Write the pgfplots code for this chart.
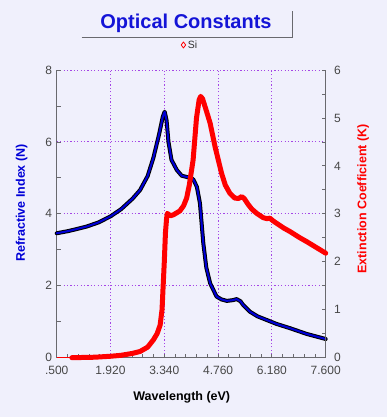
\documentclass[border=0pt]{standalone}
\usepackage{pgfplots}
\pgfplotsset{compat=1.18}
\usepackage{fontspec}
\setmainfont{Liberation Sans}
\definecolor{bg}{RGB}{240,240,252}
\definecolor{gridc}{RGB}{165,70,230}
\definecolor{tickc}{RGB}{70,70,70}
\definecolor{axc}{RGB}{105,105,110}
\definecolor{titleblue}{RGB}{20,20,215}
\definecolor{nblue}{RGB}{0,0,215}
\begin{document}
\begin{tikzpicture}[x=1pt,y=1pt]
\fill[bg] (0pt,0pt) rectangle (387pt,417pt);
\node[font=\fontsize{20}{24}\selectfont\bfseries, text=titleblue] at (186pt,393.5pt) {Optical Constants};
\draw[axc, line width=1pt] (81.7pt,379.7pt) -- (292.3pt,379.7pt) -- (292.3pt,406.3pt);
\begin{axis}[
  at={(56.7pt,59.3pt)}, anchor=south west,
  scale only axis, width=269pt, height=287.7pt,
  xmin=0.5, xmax=7.6, ymin=0, ymax=8,
  axis x line*=bottom, axis y line*=left,
  axis line style={-, axc, line width=1pt},
  xtick={0.5,1.92,3.34,4.76,6.18,7.6},
  xticklabels={.500,1.920,3.340,4.760,6.180,7.600},
  minor x tick num=4,
  ytick={0,2,4,6,8}, minor y tick num=1,
  tick align=inside,
  major tick length=4pt, minor tick length=4pt,
  every tick/.style={axc, line width=0.8pt},
  grid=major,
  major grid style={gridc, dash pattern=on 1.2pt off 2.2pt, line width=0.9pt},
  tick label style={font=\fontsize{12}{14}\selectfont, text=tickc},
  xticklabel style={yshift=-5pt},
  yticklabel style={xshift=-1pt},
  /pgf/number format/assume math mode=true,
  xlabel={Wavelength (eV)},
  ylabel={Refractive Index (N)},
  every axis x label/.style={font=\fontsize{12.5}{15}\selectfont\bfseries, at={(axis description cs:0.465,-0.137)}, anchor=center},
  every axis y label/.style={font=\fontsize{12.5}{15}\selectfont\bfseries, text=nblue, at={(axis description cs:-0.13,0.538)}, anchor=center, rotate=90},
  clip=false,
]
\addplot[black, line width=4pt, line join=round, line cap=round] coordinates {
(0.5,3.46) (0.8,3.52) (1.0,3.57) (1.3,3.65) (1.6,3.76) (1.92,3.93) (2.2,4.13) (2.5,4.42) (2.7,4.66) (2.9,5.05) (3.05,5.55) (3.2,6.2) (3.3,6.7) (3.35,6.84) (3.4,6.6) (3.45,6.0) (3.53,5.5) (3.67,5.22) (3.8,5.06) (3.95,5.02) (4.05,5.0) (4.11,4.95) (4.2,4.75) (4.28,4.3) (4.37,3.18) (4.45,2.5) (4.55,2.07) (4.72,1.70) (4.85,1.62) (4.99,1.58) (5.15,1.60) (5.25,1.63) (5.35,1.57) (5.42,1.47) (5.6,1.28) (5.8,1.15) (6.04,1.05) (6.3,0.94) (6.66,0.82) (7.1,0.66) (7.6,0.52)
};
\addplot[nblue, line width=2pt, line join=round, line cap=round] coordinates {
(0.5,3.46) (0.8,3.52) (1.0,3.57) (1.3,3.65) (1.6,3.76) (1.92,3.93) (2.2,4.13) (2.5,4.42) (2.7,4.66) (2.9,5.05) (3.05,5.55) (3.2,6.2) (3.3,6.7) (3.35,6.84) (3.4,6.6) (3.45,6.0) (3.53,5.5) (3.67,5.22) (3.8,5.06) (3.95,5.02) (4.05,5.0) (4.11,4.95) (4.2,4.75) (4.28,4.3) (4.37,3.18) (4.45,2.5) (4.55,2.07) (4.72,1.70) (4.85,1.62) (4.99,1.58) (5.15,1.60) (5.25,1.63) (5.35,1.57) (5.42,1.47) (5.6,1.28) (5.8,1.15) (6.04,1.05) (6.3,0.94) (6.66,0.82) (7.1,0.66) (7.6,0.52)
};
\end{axis}
\begin{axis}[
  at={(56.7pt,59.3pt)}, anchor=south west,
  scale only axis, width=269pt, height=287.7pt,
  xmin=0.5, xmax=7.6, ymin=0, ymax=6,
  axis y line*=right, axis x line=none,
  axis line style={-, axc, line width=1pt},
  ytick={0,1,2,3,4,5,6}, minor y tick num=1,
  tick align=inside,
  major tick length=4pt, minor tick length=4pt,
  every tick/.style={axc, line width=0.8pt},
  tick label style={font=\fontsize{12}{14}\selectfont, text=tickc},
  yticklabel style={xshift=5pt},
  /pgf/number format/assume math mode=true,
  ylabel={Extinction Coefficient (K)},
  every axis y label/.style={font=\fontsize{12.5}{15}\selectfont\bfseries, text=red, at={(axis description cs:1.139,0.552)}, anchor=center, rotate=90},
  clip=false,
  legend style={at={(axis description cs:0.496,1.087)}, anchor=center, draw=none, fill=none, font=\fontsize{10.5}{12}\selectfont, text=black!80},
]
\addplot[red, line width=0.8pt, forget plot] coordinates {(0.5,0) (0.9,0)};
\addplot[red, line width=5pt, line join=round, line cap=round,
  legend image code/.code={\draw[mark=diamond, mark size=3pt, mark options={draw=red, fill=none, line width=0.8pt, solid}] plot coordinates {(0.2cm,0cm)};}] coordinates {
(0.9,0.0) (1.2,0.005) (1.5,0.01) (1.92,0.03) (2.2,0.05) (2.5,0.09) (2.7,0.13) (2.9,0.22) (3.05,0.37) (3.15,0.5) (3.23,0.68) (3.28,1.0) (3.31,1.5) (3.34,2.0) (3.37,2.6) (3.40,2.9) (3.42,3.01) (3.5,2.96) (3.58,2.98) (3.75,3.06) (3.85,3.17) (3.93,3.33) (4.0,3.6) (4.1,4.12) (4.19,5.0) (4.26,5.38) (4.3,5.45) (4.35,5.40) (4.45,5.15) (4.55,4.89) (4.68,4.40) (4.85,3.85) (4.95,3.6) (5.07,3.43) (5.2,3.33) (5.3,3.32) (5.38,3.36) (5.45,3.32) (5.55,3.2) (5.65,3.1) (5.78,3.01) (5.95,2.92) (6.05,2.90) (6.13,2.91) (6.2,2.86) (6.31,2.80) (6.5,2.70) (6.66,2.63) (6.9,2.51) (7.1,2.42) (7.35,2.30) (7.6,2.18)
};
\addlegendentry{Si}
\end{axis}
\end{tikzpicture}
\end{document}
